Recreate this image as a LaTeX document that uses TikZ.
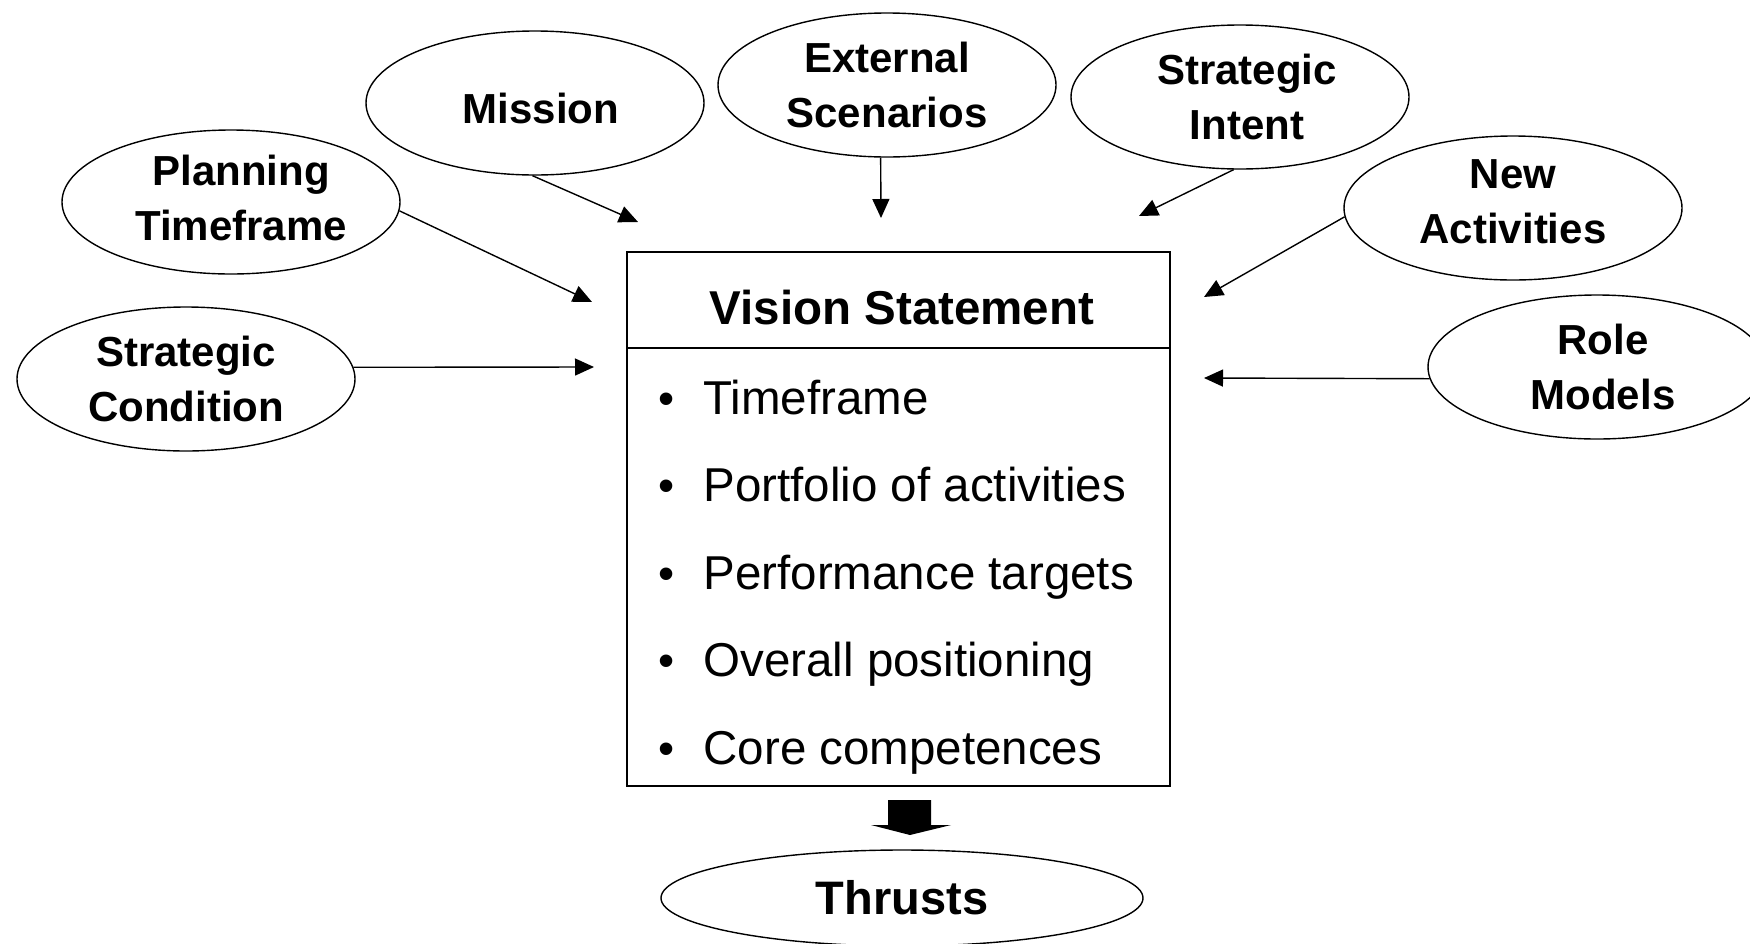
\documentclass[tikz,border=0pt]{standalone}
\usepackage{fontspec}
\setmainfont{Liberation Sans}
\usetikzlibrary{shapes.geometric,arrows.meta}

\tikzset{
  bubble/.style={ellipse, draw, line width=1.4pt, inner sep=0pt,
    minimum width=338pt, minimum height=144pt, align=center,
    font=\fontsize{42}{55}\selectfont\bfseries},
  feed/.style={line width=1.4pt, -{Triangle[length=19pt,width=17pt]}},
  item/.style={anchor=base west, font=\fontsize{47.5}{50}\selectfont},
  dot/.style={anchor=base, font=\fontsize{46}{50}\selectfont}
}
% nudges a bubble label sideways inside its outline
\newcommand{\nudge}[1]{\hspace*{#1}}

\begin{document}
\begin{tikzpicture}[x=1pt,y=-1pt]
\useasboundingbox (0,0) rectangle (1750,943);

% central box with title row
\node[draw, line width=1.8pt, minimum width=543pt, minimum height=534pt, inner sep=0pt]
  (vision) at (898.5,519) {};
\coordinate (sepL) at (627,348);
\coordinate (sepR) at (1170,348);
\draw[line width=1.8pt] (sepL) -- (sepR);
\node[anchor=base, font=\fontsize{47.5}{50}\selectfont\bfseries] (title) at (902,324) {Vision Statement};

% list inside the box
\foreach \y/\t [count=\i] in {414/Timeframe, 501/Portfolio of activities, 589/Performance targets, 676/Overall positioning, 764/Core competences}{
  \node[dot] (b\i) at (667,\y) {•};
  \node[item] (it\i) at (700,\y) {\t};
}

% input bubbles
\node[bubble, text height=42pt] (mission) at (535,103) {\nudge{12pt}Mission};
\node[bubble] (external)  at (887,85)   {External\\Scenarios};
\node[bubble] (intent)    at (1240,97)  {\nudge{14pt}Strategic\\\nudge{14pt}Intent};
\node[bubble, text depth=8pt] (planning) at (231,202) {\nudge{20pt}Planning\\\nudge{20pt}Timeframe};
\node[bubble, text depth=12pt] (newact) at (1513,208) {New\\Activities};
\node[bubble] (condition) at (186,379)  {Strategic\\Condition};
\node[bubble] (role)      at (1597,367) {\nudge{12pt}Role\\\nudge{12pt}Models};

% arrow tips stop short of the box
\coordinate (tMission)   at (638,222);
\coordinate (tExternal)  at (881,218);
\coordinate (tIntent)    at (1139,216);
\coordinate (tPlanning)  at (592,302);
\coordinate (tNew)       at (1204,297);
\coordinate (tCondition) at (594,367);
\coordinate (tRole)      at (1204,378);

\draw[feed] (mission.-92)    -- (tMission);
\draw[feed] (external.-95)   -- (tExternal);
\draw[feed] (intent.-95)     -- (tIntent);
\draw[feed] (planning.-3)    -- (tPlanning);
\draw[feed] (newact.183)     -- (tNew);
\draw[feed] (condition.4)    -- (tCondition);
\draw[feed] (role.184)       -- (tRole);

% output
\node[ellipse, draw, line width=1.4pt, inner sep=0pt, minimum width=482pt, minimum height=96pt,
  font=\fontsize{47}{50}\selectfont\bfseries] (thrusts) at (902,898) {Thrusts};
\fill (888,800) -- (931,800) -- (931,825) -- (951,825) -- (910,835)
      -- (871,825) -- (888,825) -- cycle;
\end{tikzpicture}
\end{document}
